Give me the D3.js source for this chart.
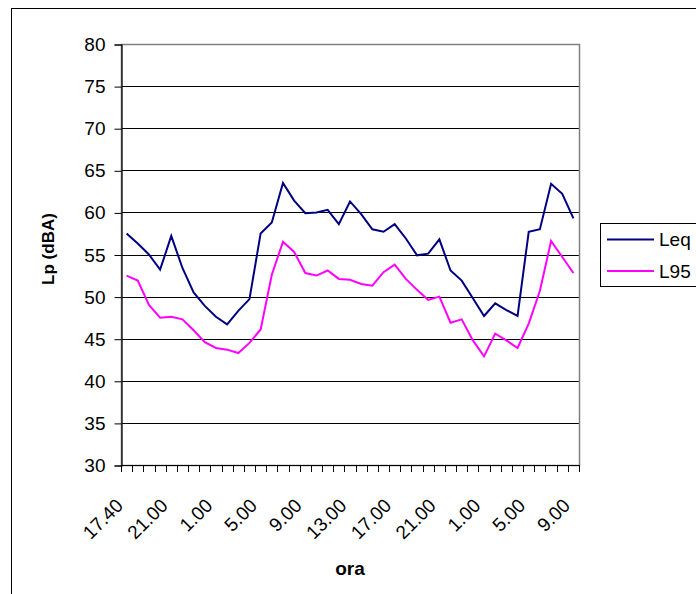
<!DOCTYPE html>
<html>
<head>
<meta charset="utf-8">
<script src="https://cdn.jsdelivr.net/npm/d3@7"></script>
<style>
  html, body { margin: 0; padding: 0; background: #fff; }
  svg { display: block; font-family: Arial, "Liberation Sans", sans-serif; }
</style>
</head>
<body>
<svg id="chart" width="696" height="594"></svg>
<script>
// Hourly readings over two days, starting at 17.40
const hours = [
  "17.40", "18.00", "19.00", "20.00", "21.00", "22.00", "23.00", "0.00",
  "1.00", "2.00", "3.00", "4.00", "5.00", "6.00", "7.00", "8.00",
  "9.00", "10.00", "11.00", "12.00", "13.00", "14.00", "15.00", "16.00",
  "17.00", "18.00 ", "19.00 ", "20.00 ", "21.00 ", "22.00 ", "23.00 ", "0.00 ",
  "1.00 ", "2.00 ", "3.00 ", "4.00 ", "5.00 ", "6.00 ", "7.00 ", "8.00 ",
  "9.00 "
];
const leq = [
  57.5, 56.3, 55.0, 53.2, 57.2, 53.4, 50.5, 48.9, 47.6, 46.7, 48.3, 49.7,
  57.5, 58.8, 63.5, 61.4, 59.9, 60.0, 60.3, 58.6, 61.3, 59.8, 58.0, 57.7,
  58.6, 56.9, 54.9, 55.1, 56.8, 53.1, 51.9, 49.8, 47.7, 49.2, 48.4, 47.7,
  57.7, 58.0, 63.4, 62.2, 59.3
];
const l95 = [
  52.5, 51.9, 49.0, 47.5, 47.6, 47.3, 46.0, 44.6, 43.9, 43.7, 43.3, 44.5,
  46.1, 52.6, 56.5, 55.3, 52.8, 52.5, 53.1, 52.1, 52.0, 51.5, 51.3, 52.9,
  53.8, 52.1, 50.8, 49.6, 50.0, 46.9, 47.3, 44.8, 42.9, 45.6, 44.8, 43.9,
  46.8, 50.7, 56.6, 54.7, 52.8
];
const yTicks = [30, 35, 40, 45, 50, 55, 60, 65, 70, 75, 80];
const seriesNames = ["Leq", "L95"];
const seriesColors = ["#000080", "#FF00FF"];

const svg = d3.select("#chart");
const plot = { left: 121, top: 44, right: 579, bottom: 465 };

// Outer chart frame (runs off the right and bottom of the canvas)
svg.append("rect")
  .attr("x", 11.5).attr("y", 8.5)
  .attr("width", 760).attr("height", 640)
  .attr("fill", "none").attr("stroke", "#000").attr("stroke-width", 1);

const x = d3.scaleBand().domain(hours).range([plot.left, plot.right]).padding(0);
const y = d3.scaleLinear().domain([30, 80]).range([plot.bottom, plot.top]);

// Gridlines
svg.append("g")
  .selectAll("line")
  .data(yTicks.slice(1, -1))
  .join("line")
  .attr("x1", plot.left).attr("x2", plot.right)
  .attr("y1", d => Math.round(y(d)) + 0.5).attr("y2", d => Math.round(y(d)) + 0.5)
  .attr("stroke", "#000").attr("stroke-width", 1);

// Plot area border
svg.append("rect")
  .attr("x", plot.left + 0.5).attr("y", plot.top + 0.5)
  .attr("width", plot.right - plot.left).attr("height", plot.bottom - plot.top)
  .attr("fill", "none").attr("stroke", "#808080").attr("stroke-width", 1.5);

// Y axis
const yAxis = d3.axisLeft(y).tickValues(yTicks).tickSize(7).tickPadding(9);
const gy = svg.append("g")
  .attr("transform", `translate(${plot.left + 0.5},0.5)`)
  .call(yAxis);
gy.select(".domain").attr("stroke", "#000").attr("stroke-width", 1.2);
gy.selectAll(".tick line").attr("stroke", "#000");
gy.selectAll(".tick text")
  .attr("font-size", 19).attr("fill", "#000")
  .attr("font-family", "Arial, 'Liberation Sans', sans-serif");

// X axis: tick marks on category boundaries
const bounds = hours.map(h => x(h)).concat([plot.right]);
const gx = svg.append("g");
gx.append("line")
  .attr("x1", plot.left).attr("x2", plot.right)
  .attr("y1", plot.bottom + 0.5).attr("y2", plot.bottom + 0.5)
  .attr("stroke", "#000").attr("stroke-width", 1.2);
gx.selectAll("line.tk")
  .data(bounds)
  .join("line")
  .attr("class", "tk")
  .attr("x1", d => Math.round(d) + 0.5).attr("x2", d => Math.round(d) + 0.5)
  .attr("y1", plot.bottom).attr("y2", plot.bottom + 7)
  .attr("stroke", "#000").attr("stroke-width", 1);

// Every fourth hour is labelled, rotated 45 degrees
const labelled = hours.filter((h, i) => i % 4 === 0);
gx.selectAll("text")
  .data(labelled)
  .join("text")
  .attr("transform", d => `translate(${x(d) + x.bandwidth() / 2 - 7},${plot.bottom + 37}) rotate(-45)`)
  .attr("text-anchor", "end")
  .attr("dy", "0.35em")
  .attr("font-size", 19)
  .attr("fill", "#000")
  .text(d => d.trim());

// Series lines
const line = d3.line()
  .x((d, i) => x(hours[i]) + x.bandwidth() / 2)
  .y(d => y(d));
[leq, l95].forEach((vals, k) => {
  svg.append("path")
    .datum(vals)
    .attr("d", line)
    .attr("fill", "none")
    .attr("stroke", seriesColors[k])
    .attr("stroke-width", 2)
    .attr("stroke-linejoin", "miter");
});

// Axis titles
svg.append("text")
  .attr("transform", "translate(54,249) rotate(-90)")
  .attr("text-anchor", "middle")
  .attr("font-size", 17).attr("font-weight", "bold")
  .text("Lp (dBA)");
svg.append("text")
  .attr("x", (plot.left + plot.right) / 2).attr("y", 575)
  .attr("text-anchor", "middle")
  .attr("font-size", 19).attr("font-weight", "bold")
  .text("ora");

// Legend
const lg = svg.append("g");
lg.append("rect")
  .attr("x", 600.5).attr("y", 223.5)
  .attr("width", 140).attr("height", 63)
  .attr("fill", "#fff").attr("stroke", "#000").attr("stroke-width", 1);
seriesNames.forEach((name, k) => {
  const ly = 239.5 + k * 31.5;
  lg.append("line")
    .attr("x1", 607).attr("x2", 654)
    .attr("y1", ly).attr("y2", ly)
    .attr("stroke", seriesColors[k]).attr("stroke-width", 2);
  lg.append("text")
    .attr("x", 659).attr("y", ly)
    .attr("dy", "0.36em")
    .attr("font-size", 19)
    .attr("fill", "#000")
    .text(name);
});
</script>
</body>
</html>
